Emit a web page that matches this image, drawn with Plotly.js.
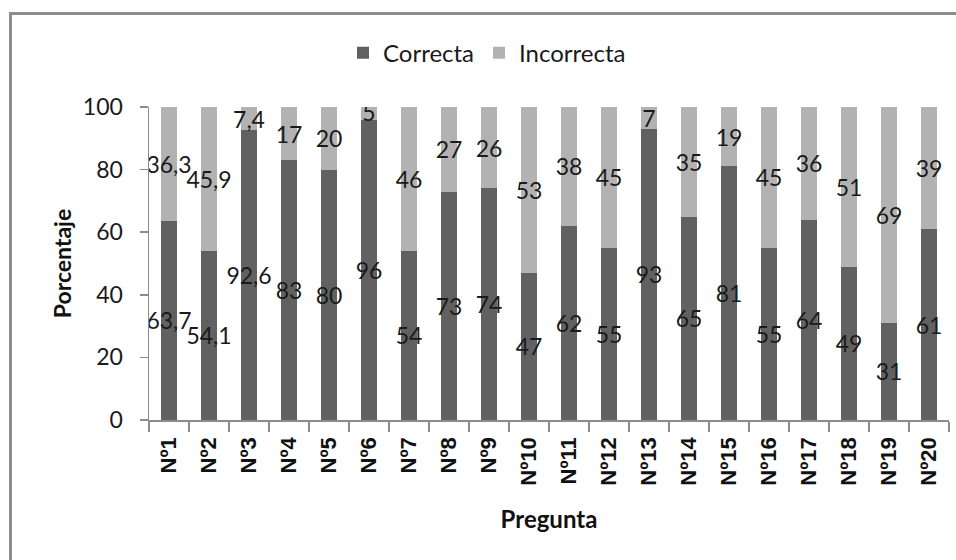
<!DOCTYPE html>
<html>
<head>
<meta charset="utf-8">
<script src="https://cdn.plot.ly/plotly-3.0.1.min.js"></script>
<style>
  html, body { margin: 0; padding: 0; background: #fff; }
  #wrap { position: relative; width: 956px; height: 560px; overflow: hidden; }
  #frame { position: absolute; left: 9px; top: 12px; width: 1000px; height: 600px;
           border-left: 3px solid #8c8c8c; border-top: 3px solid #8c8c8c; box-sizing: border-box; pointer-events: none; }
  #chart { position: absolute; left: 0; top: 0; width: 956px; height: 560px; }
</style>
</head>
<body>
<div id="wrap">
  <div id="chart"></div>
  <div id="frame"></div>
</div>
<script>
const categories = ["Nº1","Nº2","Nº3","Nº4","Nº5","Nº6","Nº7","Nº8","Nº9","Nº10",
                    "Nº11","Nº12","Nº13","Nº14","Nº15","Nº16","Nº17","Nº18","Nº19","Nº20"];
const correcta   = [63.7, 54.1, 92.6, 83, 80, 96, 54, 73, 74, 47, 62, 55, 93, 65, 81, 55, 64, 49, 31, 61];
const incorrecta = [36.3, 45.9, 7.4, 17, 20, 5, 46, 27, 26, 53, 38, 45, 7, 35, 19, 45, 36, 51, 69, 39];
const yTicks = [0, 20, 40, 60, 80, 100];

const fmt = v => String(v).replace('.', ',');
const labelFont = { family: "Lato, 'Open Sans', sans-serif", size: 23, color: "#1a1a1a" };

const traces = [
  {
    type: "bar", name: "Correcta", x: categories, y: correcta,
    text: correcta.map(fmt), textposition: "inside", insidetextanchor: "middle",
    textangle: 0, constraintext: "none", insidetextfont: labelFont,
    marker: { color: "#616161" }, hoverinfo: "x+y"
  },
  {
    type: "bar", name: "Incorrecta", x: categories, y: incorrecta,
    text: incorrecta.map(fmt), textposition: "inside", insidetextanchor: "middle",
    textangle: 0, constraintext: "none", insidetextfont: labelFont,
    marker: { color: "#b2b2b2" }, hoverinfo: "x+y"
  }
];

const layout = {
  width: 956, height: 560, autosize: false,
  barmode: "stack", bargap: 0.62,
  paper_bgcolor: "#ffffff", plot_bgcolor: "#ffffff",
  margin: { l: 149, r: 7, t: 107, b: 140 },
  font: { family: "Lato, 'Open Sans', sans-serif", color: "#1a1a1a" },
  showlegend: true,
  legend: {
    orientation: "h", x: 0.4225, xanchor: "center", y: 1.172, yanchor: "middle",
    font: { size: 24, color: "#1a1a1a" }, itemwidth: 30, traceorder: "normal"
  },
  xaxis: {
    type: "category", showline: true, linecolor: "#8c8c8c", linewidth: 1.5,
    ticks: "outside", tickson: "boundaries", ticklen: 10, tickcolor: "#8c8c8c", tickwidth: 1.5,
    tickangle: -90, ticklabelstandoff: 7, showgrid: false, zeroline: false,
    tickfont: { family: "'Liberation Sans', Arial, sans-serif", size: 22, weight: "bold", color: "#111" },
    title: { text: "<b>Pregunta</b>", font: { size: 24, color: "#111" }, standoff: 26 }
  },
  yaxis: {
    range: [0, 100], tickvals: yTicks, ticktext: yTicks.map(String),
    showline: true, linecolor: "#8c8c8c", linewidth: 1.5,
    ticks: "outside", ticklen: 8, tickcolor: "#8c8c8c", tickwidth: 1.5,
    ticklabelstandoff: 12, showgrid: false, zeroline: false,
    tickfont: { size: 23, color: "#1a1a1a" },
    title: { text: "<b>Porcentaje</b>", font: { size: 23, color: "#111" }, standoff: 5 }
  }
};

Plotly.newPlot("chart", traces, layout, { displayModeBar: false, staticPlot: true });
</script>
</body>
</html>
